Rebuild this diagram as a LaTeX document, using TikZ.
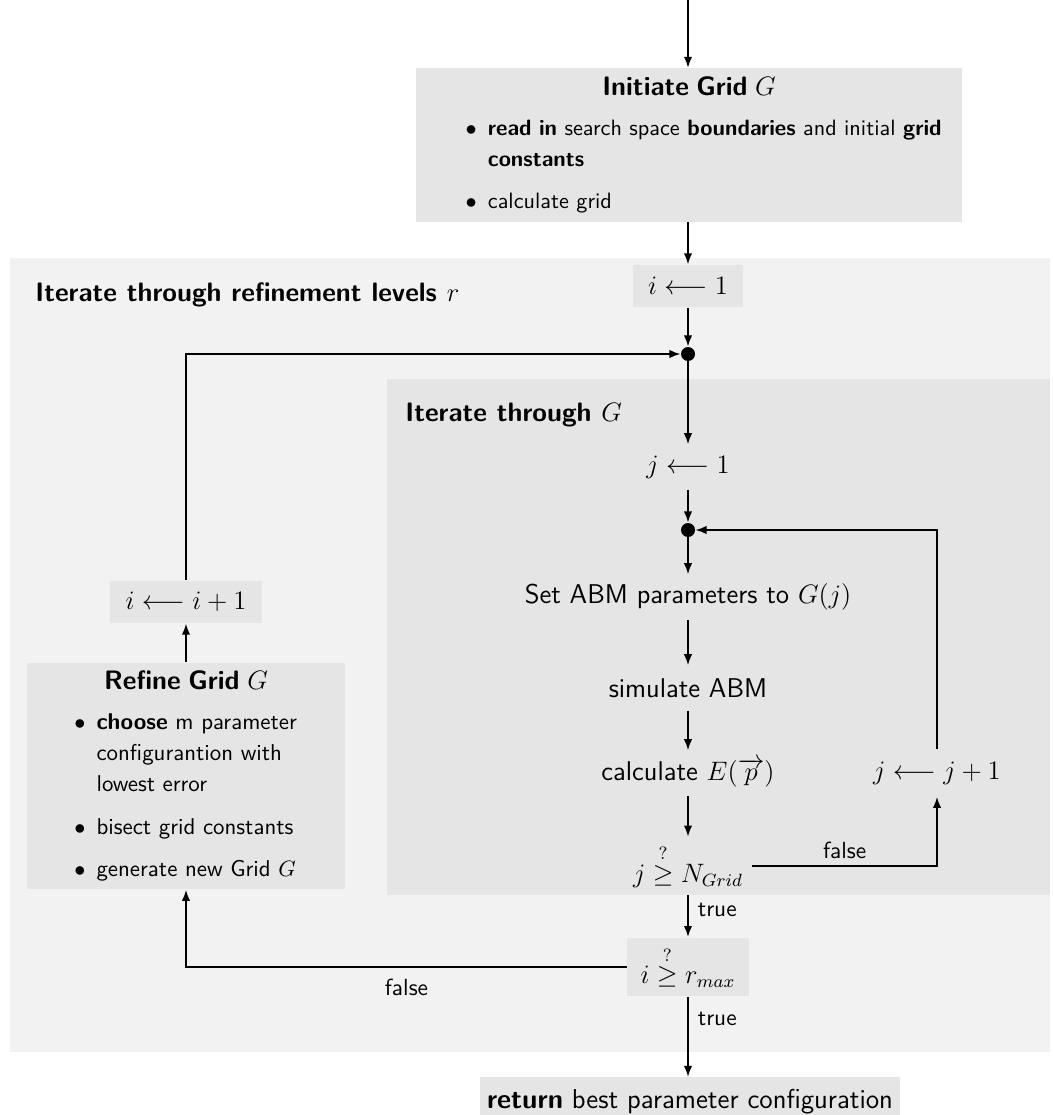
\documentclass[tikz,border=0pt]{standalone}
\usepackage{amsmath}
\usepackage{enumitem}
\usetikzlibrary{arrows.meta}

\hyphenpenalty=10000
\exhyphenpenalty=10000
\tolerance=9999

\tikzset{
  >={Latex[length=5pt,width=3.8pt]},
  flow/.style={->, line width=0.85pt},
  greybox/.style={fill=gray!20, inner sep=0pt},
  listbox/.style={greybox, inner xsep=4.5pt, font=\sffamily\fontsize{10}{14}\selectfont},
  mathbox/.style={greybox, font=\large, inner xsep=7pt, minimum height=19pt},
  stepnode/.style={inner sep=0pt, minimum height=20pt, font=\sffamily\fontsize{12.2}{14}\selectfont},
  junction/.style={circle, fill=black, inner sep=0pt, minimum size=6.3pt},
  arealabel/.style={anchor=west, inner sep=0pt, font=\sffamily\large\bfseries},
  edgelabel/.style={inner sep=2pt, font=\sffamily\fontsize{10.5}{12}\selectfont},
}

\begin{document}
\begin{tikzpicture}[x=0.45pt,y=-0.45pt]
\useasboundingbox (0,0) rectangle (1052,1115);

% loop areas
\draw[fill=gray!10,draw=none] (10,258) rectangle (1050,1052);
\draw[fill=gray!20,draw=none] (387,379) rectangle (1050,895);

\node[arealabel] (levels) at (35,295) {Iterate through refinement levels $r$};
\node[arealabel] (gridloop) at (405,415) {Iterate through $G$};

\coordinate (start) at (688,0);

\node[listbox, text width=237pt, minimum height=69pt] (init) at (689,145) {
  {\centering\large\bfseries Initiate Grid $G$\par}
  \begin{itemize}[label=$\bullet$, leftmargin=28pt, topsep=4pt, itemsep=5pt, parsep=0pt, partopsep=0pt]
    \item \textbf{read in} search space \textbf{boundaries} and initial \textbf{grid constants}
    \item calculate grid
  \end{itemize}};

\node[mathbox] (i1) at (688,286) {$i \longleftarrow 1$};
\node[junction] (dot1) at (688,354) {};

\node[stepnode, font=\large] (j1) at (688,467) {$j \longleftarrow 1$};
\node[junction] (dot2) at (688,530) {};
\node[stepnode] (setp) at (688,597) {Set ABM parameters to $G(j)$};
\node[stepnode] (sim) at (688,688) {simulate ABM};
\node[stepnode] (calc) at (688,773) {calculate $E(\overrightarrow{p})$};
\node[stepnode, font=\large, minimum height=26pt, inner xsep=4pt] (jcheck) at (688,866) {$j \overset{?}{\geq} N_{Grid}$};
\node[stepnode, font=\large, minimum height=21pt] (jinc) at (937,773) {$j \longleftarrow j+1$};

\node[mathbox, minimum height=26.5pt, inner xsep=6pt] (icheck) at (688,967) {$i \overset{?}{\geq} r_{max}$};

\node[mathbox] (iinc) at (186,602) {$i \longleftarrow i+1$};
\node[listbox, text width=134.5pt, minimum height=102pt, font=\sffamily\fontsize{10.3}{14}\selectfont] (refine) at (186,776) {
  {\centering\large\bfseries Refine Grid $G$\par}
  \begin{itemize}[label=$\bullet$, leftmargin=27pt, rightmargin=16pt, topsep=4pt, itemsep=5pt, parsep=0pt, partopsep=0pt]
    \item \textbf{choose} m parameter configurantion with lowest error
    \item bisect grid constants
    \item generate new Grid $G$
  \end{itemize}};

\node[greybox, anchor=north, inner xsep=3pt, minimum height=22pt, font=\sffamily\fontsize{12.3}{14}\selectfont] (ret) at (690,1077) {\textbf{return} best parameter configuration};

% flow
\draw[flow] (start) -- (init.north -| start);
\draw[flow] (init.south -| start) -- (i1);
\draw[flow] (i1) -- (dot1);
\draw[flow] (dot1) -- (j1);
\draw[flow] (j1) -- (dot2);
\draw[flow] (dot2) -- (setp);
\draw[flow] (setp) -- (sim);
\draw[flow] (sim) -- (calc);
\draw[flow] (calc) -- (jcheck);
\draw[flow] (jcheck) -| node[edgelabel, pos=0.25, above=1pt] {false} (jinc);
\draw[flow] (jinc) |- (dot2);
\draw[flow] (jcheck) -- node[edgelabel, pos=0.35, right=2pt] {true} (icheck);
\draw[flow] (icheck) -| node[edgelabel, pos=0.25, below=3pt] {false} (refine);
\draw[flow] (refine) -- (iinc);
\draw[flow] (iinc) |- (dot1);
\draw[flow] (icheck) -- node[edgelabel, pos=0.27, right=2pt] {true} (ret.north -| icheck);

\end{tikzpicture}
\end{document}
